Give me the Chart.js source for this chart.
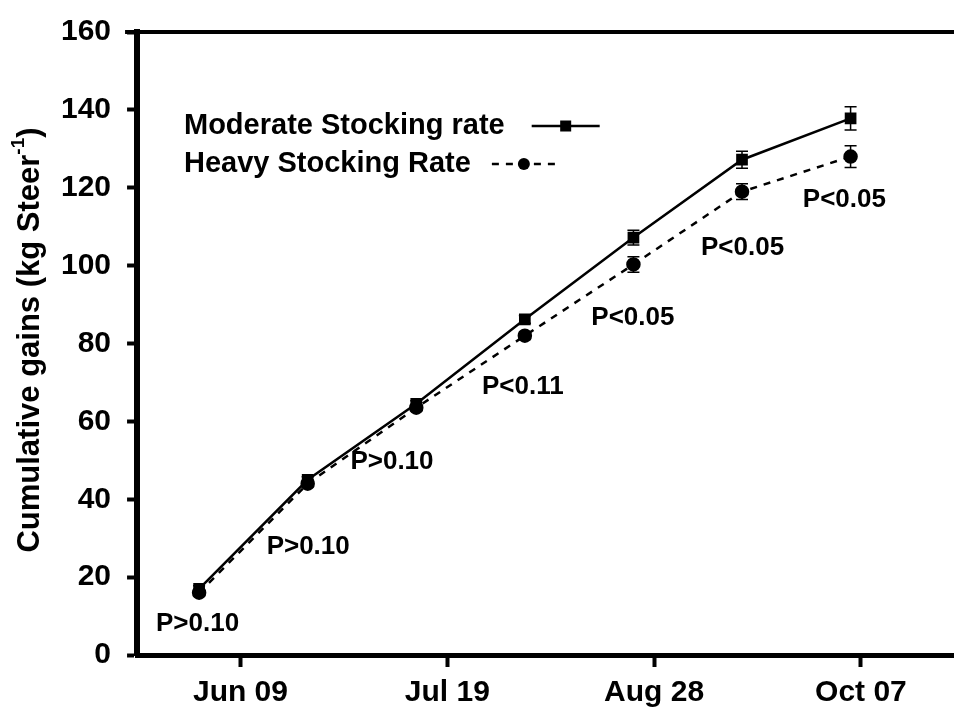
<!DOCTYPE html>
<html>
<head>
<meta charset="utf-8">
<script src="https://cdn.jsdelivr.net/npm/chart.js@4"></script>
<style>
  html, body { margin: 0; padding: 0; background: #fff; }
  #wrap { width: 954px; height: 709px; }
</style>
</head>
<body>
<div id="wrap"><canvas id="graphic" width="954" height="709"></canvas></div>
<script>
// days counted from Jun 09
const sampleDays = [-8, 13, 34, 55, 76, 97, 118]
const moderate = [17, 45, 64.5, 86.2, 107.2, 127.2, 137.8]
const moderateErr = [0.8, 0.8, 0.8, 1, 1.9, 2.2, 3]
const heavy = [16, 44, 63.5, 82, 100.3, 119, 128]
const heavyErr = [0.8, 0.8, 0.8, 1, 2, 2, 2.8]
const tickDays = [0, 40, 80, 120]
const tickLabels = ["Jun 09", "Jul 19", "Aug 28", "Oct 07"]
const pLabels = ["P>0.10", "P>0.10", "P>0.10", "P<0.11", "P<0.05", "P<0.05", "P<0.05"]
const pLabelDays = [-8.3, 13.1, 29.3, 54.6, 75.9, 97.1, 116.8]
const pLabelValues = [8, 27.8, 49.6, 68.9, 86.6, 104.6, 117]
const seriesNames = ["Moderate Stocking rate", "Heavy Stocking Rate"]

const FONT = "'Liberation Sans', Arial, sans-serif"
const ctx = document.querySelector('#graphic').getContext('2d')

const toPoints = (vals) => vals.map((v, i) => ({ x: sampleDays[i], y: v }))

// error bars, p-value labels, y title and the legend drawn by hand
const extras = {
  id: 'extras',
  afterDatasetsDraw(chart) {
    const c = chart.ctx
    const xs = chart.scales.x
    const ys = chart.scales.y
    c.save()
    c.strokeStyle = '#000'
    c.lineWidth = 1.5
    const bars = [[moderate, moderateErr], [heavy, heavyErr]]
    bars.forEach(([vals, errs]) => {
      vals.forEach((v, i) => {
        const px = xs.getPixelForValue(sampleDays[i])
        const top = ys.getPixelForValue(v + errs[i])
        const bot = ys.getPixelForValue(v - errs[i])
        c.beginPath()
        c.moveTo(px, top); c.lineTo(px, bot)
        c.moveTo(px - 6, top); c.lineTo(px + 6, top)
        c.moveTo(px - 6, bot); c.lineTo(px + 6, bot)
        c.stroke()
      })
    })

    c.fillStyle = '#000'
    c.font = `bold 26px ${FONT}`
    c.textAlign = 'center'
    c.textBaseline = 'middle'
    pLabels.forEach((t, i) => {
      c.fillText(t, xs.getPixelForValue(pLabelDays[i]), ys.getPixelForValue(pLabelValues[i]))
    })

    // y axis title with superscript
    c.save()
    c.translate(30, 340)
    c.rotate(-Math.PI / 2)
    const main = "Cumulative gains (kg Steer"
    const sup = "-1"
    const end = ")"
    c.font = `bold 31px ${FONT}`
    const w1 = c.measureText(main).width
    const w3 = c.measureText(end).width
    c.font = `bold 19px ${FONT}`
    const w2 = c.measureText(sup).width
    const x0 = -(w1 + w2 + w3) / 2
    c.textAlign = 'left'
    c.textBaseline = 'middle'
    c.font = `bold 31px ${FONT}`
    c.fillText(main, x0, 0)
    c.font = `bold 19px ${FONT}`
    c.fillText(sup, x0 + w1, -11)
    c.font = `bold 31px ${FONT}`
    c.fillText(end, x0 + w1 + w2, 0)
    c.restore()

    // legend: text first, then line sample
    c.font = `bold 29px ${FONT}`
    c.textAlign = 'left'
    c.textBaseline = 'middle'
    const rows = [126, 164]
    seriesNames.forEach((name, i) => {
      const y = rows[i]
      c.fillText(name, 184, y)
      const tw = c.measureText(name).width
      const ds = chart.data.datasets[i]
      const sx = 184 + tw + (i === 0 ? 27 : 21)
      const len = 68
      c.strokeStyle = '#000'
      c.lineWidth = 2.5
      c.setLineDash(ds.borderDash || [])
      c.beginPath()
      c.moveTo(sx, y); c.lineTo(sx + len, y)
      c.stroke()
      c.setLineDash([])
      const mx = sx + (i === 0 ? 34 : 32)
      c.beginPath()
      if (ds.pointStyle === 'rect') {
        c.fillRect(mx - 5.5, y - 5.5, 11, 11)
      } else {
        c.arc(mx, y, 6, 0, Math.PI * 2)
        c.fill()
      }
    })

    // top frame line
    c.lineWidth = 4
    c.beginPath()
    c.moveTo(chart.chartArea.left - 12, ys.getPixelForValue(160))
    c.lineTo(954, ys.getPixelForValue(160))
    c.stroke()
    c.restore()
  }
}

new Chart(ctx, {
  type: 'line',
  data: {
    datasets: [{
      label: seriesNames[0],
      data: toPoints(moderate),
      borderColor: '#000',
      backgroundColor: '#000',
      borderWidth: 2.5,
      pointStyle: 'rect',
      pointRadius: 6.5,
      pointHoverRadius: 6.5,
      tension: 0
    }, {
      label: seriesNames[1],
      data: toPoints(heavy),
      borderColor: '#000',
      backgroundColor: '#000',
      borderWidth: 2.5,
      borderDash: [7, 7],
      pointStyle: 'circle',
      pointRadius: 6,
      pointHoverRadius: 6,
      tension: 0
    }]
  },
  options: {
    responsive: false,
    animation: false,
    layout: { autoPadding: false, padding: { left: 45, top: 0, right: 0, bottom: 0 } },
    plugins: {
      legend: { display: false },
      tooltip: { enabled: false }
    },
    scales: {
      x: {
        type: 'linear',
        min: -20,
        max: 138,
        afterBuildTicks: (axis) => { axis.ticks = tickDays.map((v) => ({ value: v })) },
        afterFit: (axis) => {
          axis.height = 54
          axis.paddingRight = 0
        },
        ticks: {
          callback: (v) => tickLabels[tickDays.indexOf(v)],
          color: '#000',
          font: { family: FONT, size: 30, weight: 'bold', lineHeight: 1 },
          padding: 11,
          maxRotation: 0
        },
        grid: { display: true, drawOnChartArea: false, tickLength: 12, tickWidth: 4, tickColor: '#000' },
        border: { display: true, color: '#000', width: 5 }
      },
      y: {
        min: 0,
        max: 160,
        afterFit: (axis) => { axis.paddingTop = 32 },
        ticks: {
          stepSize: 20,
          color: '#000',
          font: { family: FONT, size: 30, weight: 'bold' },
          padding: 16
        },
        grid: { display: true, drawOnChartArea: false, tickLength: 10, tickWidth: 4, tickColor: '#000' },
        border: { display: true, color: '#000', width: 6 }
      }
    }
  },
  plugins: [extras]
})
</script>
</body>
</html>
